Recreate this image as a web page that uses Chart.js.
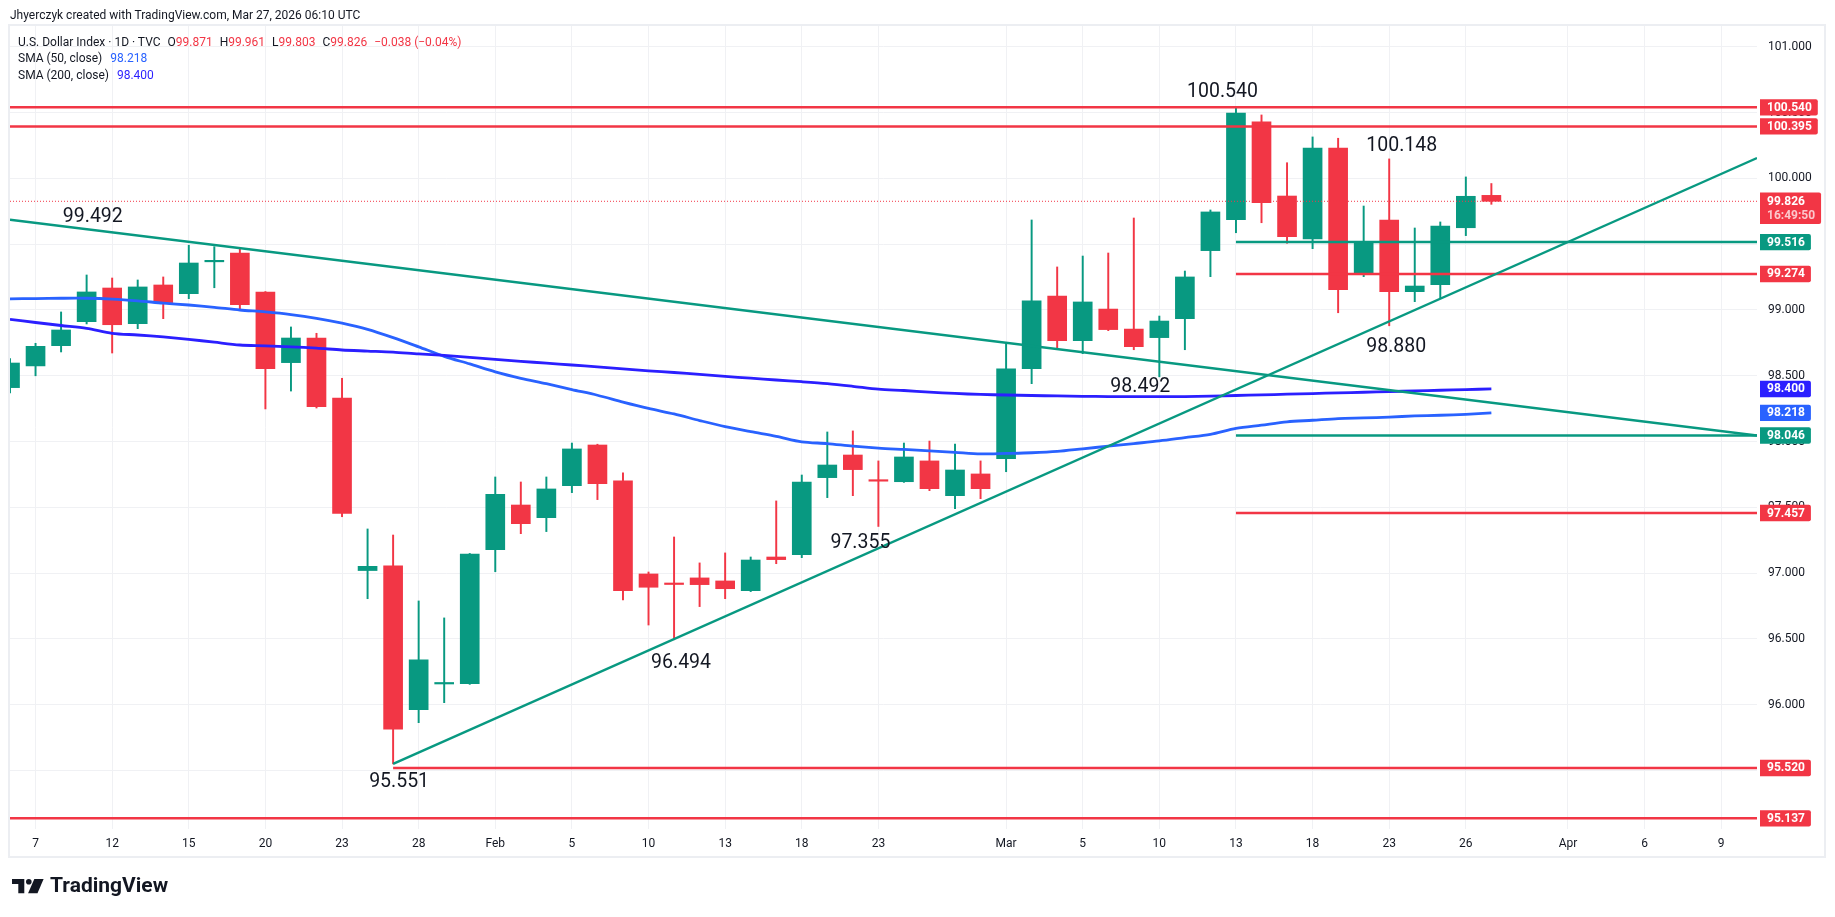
<!DOCTYPE html>
<html><head><meta charset="utf-8">
<script src="https://cdn.jsdelivr.net/npm/chart.js@4.4.1/dist/chart.umd.min.js"></script>
<style>
html,body{margin:0;padding:0;background:#fff;}
#wrap{position:relative;width:1835px;height:917px;overflow:hidden;font-family:Roboto,sans-serif;color:#131722;}
#c{position:absolute;left:0;top:0;}
#hdr{position:absolute;left:10px;top:7px;font-size:12px;line-height:16px;white-space:nowrap;}
#legend{position:absolute;left:18px;top:34px;font-size:12px;line-height:16.4px;white-space:nowrap;}
.r{color:#f23645}
.g{margin-left:7px}
.b1{color:#2962ff;margin-left:8px}
.b2{color:#2b1fff;margin-left:8px}
#logo{position:absolute;left:11.7px;top:879px;}
#logotxt{position:absolute;left:50px;top:875px;font-size:21px;font-weight:700;line-height:21px;white-space:nowrap;color:#131722;}
</style></head>
<body>
<div id="wrap">
<canvas id="c" width="1835" height="917"></canvas>
<div id="hdr">Jhyerczyk created with TradingView.com, Mar 27, 2026 06:10 UTC</div>
<div id="legend">
 <div><span>U.S. Dollar Index · 1D · TVC</span><span class="g">O<span class="r" id="lo"></span></span><span class="g">H<span class="r" id="lh"></span></span><span class="g">L<span class="r" id="ll"></span></span><span class="g">C<span class="r" id="lc"></span></span><span class="g r" id="lchg"></span></div>
 <div><span>SMA (50, close)</span><span class="b1" id="ls50"></span></div>
 <div><span>SMA (200, close)</span><span class="b2" id="ls200"></span></div>
</div>
<svg id="logo" width="34" height="16" viewBox="0 0 34 16">
 <path d="M0,0 H12.3 V14.3 H6.3 V5 H0 Z" fill="#131722"/>
 <circle cx="16.8" cy="2.8" r="2.8" fill="#131722"/>
 <path d="M22.3,0 H31.6 L25.5,14.3 H16.1 Z" fill="#131722"/>
</svg>
<div id="logotxt">TradingView</div>
</div>
<script>
// ---------- DATA ----------
const dates = ["2026-01-06","2026-01-07","2026-01-08","2026-01-09","2026-01-12","2026-01-13","2026-01-14","2026-01-15","2026-01-16","2026-01-19","2026-01-20","2026-01-21","2026-01-22","2026-01-23","2026-01-26","2026-01-27","2026-01-28","2026-01-29","2026-01-30","2026-02-02","2026-02-03","2026-02-04","2026-02-05","2026-02-06","2026-02-09","2026-02-10","2026-02-11","2026-02-12","2026-02-13","2026-02-16","2026-02-17","2026-02-18","2026-02-19","2026-02-20","2026-02-23","2026-02-24","2026-02-25","2026-02-26","2026-02-27","2026-03-02","2026-03-03","2026-03-04","2026-03-05","2026-03-06","2026-03-09","2026-03-10","2026-03-11","2026-03-12","2026-03-13","2026-03-16","2026-03-17","2026-03-18","2026-03-19","2026-03-20","2026-03-23","2026-03-24","2026-03-25","2026-03-26","2026-03-27"];
const opens  = [98.410,98.575,98.729,98.911,99.167,98.896,99.190,99.124,99.366,99.433,99.137,98.600,98.787,98.331,97.020,97.055,95.963,96.158,96.160,97.178,97.518,97.422,97.665,97.974,97.701,96.994,96.922,96.964,96.941,96.867,97.123,97.141,97.726,97.898,97.706,97.695,97.853,97.589,97.754,97.870,98.554,99.106,98.767,99.007,98.855,98.790,98.934,99.451,99.686,100.429,99.866,99.540,100.231,99.281,99.684,99.139,99.192,99.625,99.871];
const highs  = [98.630,98.747,98.985,99.266,99.243,99.228,99.251,99.492,99.481,99.469,99.140,98.871,98.823,98.481,97.336,97.290,96.789,96.660,97.150,97.731,97.693,97.731,97.989,97.980,97.762,97.009,97.275,97.078,97.154,97.123,97.549,97.746,98.073,98.081,97.853,97.989,98.004,97.981,97.853,98.747,99.684,99.327,99.410,99.433,99.699,98.954,99.296,99.760,100.540,100.482,100.119,100.315,100.305,99.790,100.148,99.623,99.669,100.011,99.961];
const lows   = [98.370,98.500,98.681,98.894,98.673,98.858,98.934,99.086,99.169,99.008,98.248,98.384,98.255,97.429,96.806,95.551,95.864,96.016,96.155,97.011,97.300,97.316,97.612,97.559,96.796,96.606,96.494,96.746,96.806,96.860,97.072,97.118,97.574,97.589,97.355,97.690,97.627,97.490,97.566,97.771,98.440,98.709,98.668,98.843,98.698,98.492,98.698,99.253,99.587,99.663,99.507,99.466,98.979,99.253,98.880,99.063,99.089,99.565,99.803];
const closes = [98.597,98.724,98.848,99.137,98.888,99.175,99.056,99.357,99.373,99.040,98.554,98.787,98.265,97.455,97.052,95.814,96.341,96.168,97.145,97.600,97.376,97.640,97.944,97.680,96.867,96.893,96.914,96.913,96.882,97.100,97.103,97.693,97.822,97.787,97.699,97.883,97.642,97.784,97.642,98.553,99.069,98.767,99.061,98.851,98.721,98.916,99.251,99.745,100.497,99.815,99.557,100.231,99.154,99.517,99.139,99.182,99.638,99.864,99.826];
const sma50  = [99.085,99.087,99.089,99.089,99.083,99.070,99.052,99.038,99.020,99.000,98.985,98.965,98.937,98.900,98.853,98.790,98.720,98.648,98.590,98.530,98.481,98.440,98.395,98.352,98.300,98.252,98.210,98.160,98.113,98.075,98.040,97.998,97.985,97.965,97.950,97.940,97.930,97.918,97.906,97.910,97.915,97.925,97.945,97.965,97.985,98.005,98.030,98.055,98.100,98.125,98.150,98.162,98.175,98.180,98.186,98.195,98.200,98.207,98.218];
const sma200 = [98.929,98.905,98.882,98.860,98.823,98.810,98.795,98.777,98.755,98.734,98.728,98.720,98.710,98.696,98.688,98.680,98.666,98.655,98.640,98.625,98.610,98.596,98.582,98.568,98.553,98.538,98.525,98.510,98.495,98.482,98.468,98.455,98.440,98.420,98.398,98.388,98.376,98.366,98.358,98.354,98.350,98.347,98.344,98.342,98.341,98.341,98.342,98.345,98.350,98.355,98.360,98.365,98.370,98.375,98.380,98.385,98.390,98.395,98.400];
// horizontal levels drawn on the chart
const levelValues = [100.540,100.395,99.516,99.274,98.046,97.457,95.520,95.137];
const levelStartIdx = [0,0,48,48,48,48,15,0];
const levelIsSupport = [false,false,true,false,true,false,false,false];
// trend lines: start (idx, price) -> end at right edge
const trendStartIdx = [0,15];
const trendStartVal = [99.686,95.551];
const trendEndVal   = [98.046,100.155];
// pivot annotations
const annoText = ["99.492","95.551","96.494","97.355","98.492","100.540","100.148","98.880"];
const annoIdx  = [7,15,26,34,45,48,54,54];
const annoVal  = [99.492,95.551,96.494,97.355,98.492,100.540,100.148,98.880];
// axis ticks
const xTickIdx = [1,4,7,10,13,16,19,22,25,28,31,34,39,42,45,48,51,54,57,61,64,67];
const xTickLabels = ["7","12","15","20","23","28","Feb","5","10","13","18","23","Mar","5","10","13","18","23","26","Apr","6","9"];
const yTicks = [95.5,96,96.5,97,97.5,98,98.5,99,99.5,100,100.5,101];
const countdown = "16:49:50";

// ---------- STYLE / LAYOUT ----------
const GREEN = "#089981", RED = "#f23645", BLUE50 = "#2962ff", BLUE200 = "#2b1fff", INK = "#131722";
const X_MIN = 0, X_MAX = 68.4, Y_MIN = 95.056, Y_MAX = 101.158;
Chart.defaults.font.family = "Roboto";

// legend fill
const last = closes.length - 1;
const chg = closes[last] - closes[last-1];
const fmt = v => v.toFixed(3);
const minus = s => s.replace("-", "\u2212");
document.getElementById("lo").textContent = fmt(opens[last]);
document.getElementById("lh").textContent = fmt(highs[last]);
document.getElementById("ll").textContent = fmt(lows[last]);
document.getElementById("lc").textContent = fmt(closes[last]);
document.getElementById("lchg").textContent = minus(chg.toFixed(3)) + " (" + minus((chg/closes[last-1]*100).toFixed(2)) + "%)";
document.getElementById("ls50").textContent = fmt(sma50[last]);
document.getElementById("ls200").textContent = fmt(sma200[last]);

const up = dates.map((d,i) => closes[i] >= opens[i]);
const candleColors = up.map(u => u ? GREEN : RED);

const datasets = [];
// trend lines (top)
trendStartIdx.forEach((s,k) => datasets.push({
  type:"line", order:0, clip:0, data:[{x:s,y:trendStartVal[k]},{x:X_MAX,y:trendEndVal[k]}],
  borderColor:GREEN, borderWidth:2.4, pointRadius:0, tension:0
}));
// levels
levelValues.forEach((v,k) => datasets.push({
  type:"line", order:0, clip:0, data:[{x:levelStartIdx[k],y:v},{x:X_MAX,y:v}],
  borderColor: levelIsSupport[k] ? GREEN : RED, borderWidth:2.5, pointRadius:0, tension:0
}));
// current price dotted line
datasets.push({type:"line", order:1, clip:0, data:[{x:X_MIN,y:closes[last]},{x:X_MAX,y:closes[last]}],
  borderColor:RED, borderWidth:1, borderDash:[1,2], pointRadius:0});
// SMAs
datasets.push({type:"line", order:2, clip:0, data:sma200.map((v,i)=>({x:i,y:v})), borderColor:BLUE200, borderWidth:2.8, pointRadius:0, tension:0.3});
datasets.push({type:"line", order:2, clip:0, data:sma50.map((v,i)=>({x:i,y:v})), borderColor:BLUE50, borderWidth:2.8, pointRadius:0, tension:0.3});
// candle bodies
datasets.push({type:"bar", order:3, clip:0, grouped:false, barThickness:19, minBarLength:1.5,
  data:dates.map((d,i)=>({x:i,y:[Math.min(opens[i],closes[i]),Math.max(opens[i],closes[i])]})),
  backgroundColor:candleColors, borderWidth:0});
// wicks
datasets.push({type:"bar", order:4, clip:0, grouped:false, barThickness:1.3,
  data:dates.map((d,i)=>({x:i,y:[lows[i],highs[i]]})),
  backgroundColor:candleColors, borderWidth:0});

const bgPlugin = {
  id:"bg",
  beforeDraw(chart){
    const c = chart.ctx;
    c.save(); c.fillStyle="#fff"; c.fillRect(0,0,chart.width,chart.height);
    c.strokeStyle="#eceef2"; c.lineWidth=2; c.strokeRect(9,25,1816,832);
    c.restore();
  }
};

const annoOffsets = [[-96,-30],[6,16],[7,21],[-18,15],[-19,8],[-13.5,-17.6],[12.5,-15],[7,19]];
const overlayPlugin = {
  id:"overlay",
  afterDatasetsDraw(chart){
    const c = chart.ctx, xs = chart.scales.x, ys = chart.scales.y;
    c.save();
    c.font = "19.5px Roboto"; c.fillStyle = INK; c.textAlign = "center"; c.textBaseline = "alphabetic";
    annoText.forEach((t,k) => {
      const x = xs.getPixelForValue(annoIdx[k]) + annoOffsets[k][0];
      const y = ys.getPixelForValue(annoVal[k]) + annoOffsets[k][1];
      c.fillText(t, x, y + 6.9);
    });
    c.restore();
  },
  afterDraw(chart){
    const c = chart.ctx, ys = chart.scales.y;
    const x0 = chart.chartArea.right + 3;
    const boxes = [];
    levelValues.forEach((v,k)=>boxes.push({v, bg: levelIsSupport[k]?GREEN:RED}));
    boxes.push({v:sma200[last], bg:BLUE200});
    boxes.push({v:sma50[last], bg:BLUE50});
    c.save();
    c.font = "bold 12px Roboto"; c.textBaseline = "middle"; c.textAlign = "left";
    const drawBox = (y, h, w, bg) => {
      c.fillStyle = bg; c.beginPath();
      c.roundRect(x0, y, w, h, [0,2,2,0]); c.fill();
    };
    boxes.forEach(b => {
      const y = ys.getPixelForValue(b.v), t = fmt(b.v);
      const w = c.measureText(t).width + 13;
      drawBox(y - 8.2, 16.4, w, b.bg);
      c.fillStyle = "#fff"; c.fillText(t, x0 + 7, y + 0.5);
    });
    // last price + countdown
    const yl = ys.getPixelForValue(closes[last]);
    const t1 = fmt(closes[last]);
    const w = Math.max(c.measureText(t1).width, c.measureText(countdown).width) + 13;
    drawBox(yl - 8.7, 31.3, w, RED);
    c.fillStyle = "#fff"; c.fillText(t1, x0 + 7, yl + 0.5);
    c.fillStyle = "rgba(255,255,255,0.72)"; c.fillText(countdown, x0 + 7, yl + 14.8);
    c.restore();
  }
};

new Chart(document.getElementById("c"), {
  type:"bar",
  data:{datasets},
  options:{
    responsive:false, animation:false, devicePixelRatio:1,
    layout:{padding:{left:10, top:26, right:0, bottom:60}},
    plugins:{legend:{display:false}, tooltip:{enabled:false}},
    scales:{
      x:{type:"linear", min:X_MIN, max:X_MAX, offset:false,
        grid:{color:"#f0f1f4", drawTicks:false, offset:false}, border:{display:false},
        ticks:{padding:8, color:INK, font:{size:12}, maxRotation:0, autoSkip:false,
          callback:(v,i)=>xTickLabels[i]},
        afterBuildTicks:s=>{ s.ticks = xTickIdx.map(v=>({value:v})); },
        afterFit:s=>{ s.height = 28; }
      },
      y:{type:"linear", position:"right", min:Y_MIN, max:Y_MAX,
        grid:{color:"#f0f1f4", drawTicks:false}, border:{display:false},
        ticks:{padding:11, color:INK, font:{size:12}, callback:v=>v.toFixed(3)},
        afterBuildTicks:s=>{ s.ticks = yTicks.map(v=>({value:v})); },
        afterFit:s=>{ s.width = 78; }
      }
    }
  },
  plugins:[bgPlugin, overlayPlugin]
});
</script>
</body></html>
